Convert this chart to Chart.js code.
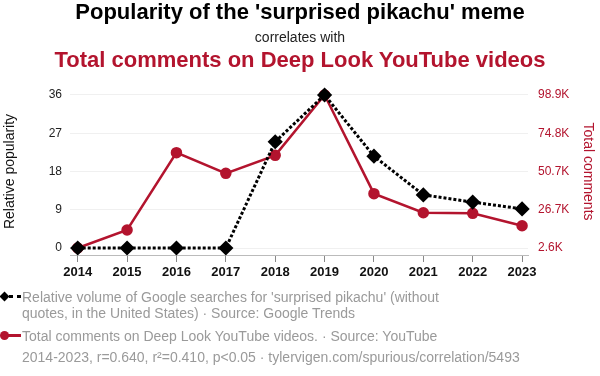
<!DOCTYPE html>
<html>
<head>
<meta charset="utf-8">
<script src="https://cdn.jsdelivr.net/npm/chart.js@4"></script>
<style>
  body { margin: 0; background: #fff; font-family: "Liberation Sans", Arial, sans-serif; }
  #wrap { position: relative; width: 600px; height: 376px; overflow: hidden; }
  #chart { position: absolute; left: 0; top: 0; }
  .t { position: absolute; left: 0; width: 600px; text-align: center; white-space: nowrap; }
  .leg { position: absolute; left: 22px; color: #9a9a9a; font-size: 14px; line-height: 16px; white-space: nowrap; }
  .ico { position: absolute; }
</style>
</head>
<body>
<div id="wrap">
  <canvas id="chart" width="600" height="376"></canvas>
  <div class="t" style="top:1px;font-size:22px;line-height:22px;font-weight:bold;color:#000;">Popularity of the 'surprised pikachu' meme</div>
  <div class="t" style="top:30px;font-size:14px;line-height:14px;color:#222;">correlates with</div>
  <div class="t" style="top:49px;font-size:22px;line-height:22px;font-weight:bold;color:#b3142e;">Total comments on Deep Look YouTube videos</div>

  <!-- legend -->
  <div class="ico" style="left:9px;top:295px;width:12px;height:0;border-top:3px dotted #000;"></div>
  <div class="ico" style="left:1px;top:293px;width:7px;height:7px;background:#000;transform:rotate(45deg);"></div>
  <div class="leg" style="top:289px;">Relative volume of Google searches for 'surprised pikachu' (without<br>quotes, in the United States) · Source: Google Trends</div>

  <div class="ico" style="left:6px;top:334px;width:15px;height:3px;background:#b3142e;"></div>
  <div class="ico" style="left:0px;top:331px;width:9px;height:9px;border-radius:50%;background:#b3142e;"></div>
  <div class="leg" style="top:328px;">Total comments on Deep Look YouTube videos. · Source: YouTube</div>

  <div class="leg" style="top:349px;">2014-2023, r=0.640, r²=0.410, p&lt;0.05 · tylervigen.com/spurious/correlation/5493</div>
</div>
<script>
const years = [2014, 2015, 2016, 2017, 2018, 2019, 2020, 2021, 2022, 2023];
const popularity = [0, 0, 0, 0, 25, 36, 21.6, 12.5, 10.8, 9.2];
const comments = [2600, 13900, 62600, 49600, 60900, 98900, 36800, 24800, 24400, 16600];
const leftTicks = [0, 9, 18, 27, 36];
const rightTicks = [2600, 26700, 50700, 74800, 98900];

const red = "#b3142e";
const fontFamily = '"Liberation Sans", Arial, sans-serif';

new Chart(document.getElementById("chart"), {
  type: "line",
  data: {
    datasets: [
      {
        label: "Relative popularity",
        data: years.map((y, i) => ({ x: y, y: popularity[i] })),
        yAxisID: "y",
        borderColor: "#000",
        backgroundColor: "#000",
        borderWidth: 3,
        borderDash: [3, 2],
        pointStyle: "rectRot",
        pointRadius: 5.5,
        pointHoverRadius: 5.5,
        tension: 0,
        clip: false,
        order: 1,
      },
      {
        label: "Total comments",
        data: years.map((y, i) => ({ x: y, y: comments[i] })),
        yAxisID: "y2",
        borderColor: red,
        backgroundColor: red,
        borderWidth: 2.5,
        pointStyle: "circle",
        pointRadius: 4.5,
        pointHoverRadius: 4.5,
        tension: 0,
        clip: false,
        order: 2,
      },
    ],
  },
  options: {
    responsive: false,
    animation: false,
    layout: { padding: { top: 88, bottom: 0, left: 0, right: 0 } },
    plugins: { legend: { display: false }, tooltip: { enabled: false } },
    scales: {
      x: {
        type: "linear",
        min: 2013.844,
        max: 2023.12,
        afterBuildTicks: (s) => { s.ticks = years.map((v) => ({ value: v })); },
        afterFit: (s) => { s.height = 121; },
        border: { display: true, color: "#bbb", width: 1 },
        grid: { drawOnChartArea: false, drawTicks: true, tickLength: 7, color: "#888" },
        ticks: {
          color: "#111",
          padding: 3,
          maxRotation: 0,
          font: { family: fontFamily, size: 13, weight: "bold" },
          callback: (v) => String(v),
        },
      },
      y: {
        position: "left",
        min: -1.647,
        max: 37.647,
        afterBuildTicks: (s) => { s.ticks = leftTicks.map((v) => ({ value: v })); },
        afterFit: (s) => { s.width = 70; },
        border: { display: false },
        grid: { color: "#f0f0f0", drawTicks: false },
        ticks: { color: "#222", padding: 8, font: { family: fontFamily, size: 12 } },
        title: {
          display: true,
          text: "Relative popularity",
          color: "#111",
          font: { family: fontFamily, size: 14 },
          padding: { top: 2, bottom: 0 },
        },
      },
      y2: {
        position: "right",
        min: -1806,
        max: 103306,
        afterBuildTicks: (s) => { s.ticks = rightTicks.map((v) => ({ value: v })); },
        afterFit: (s) => { s.width = 72; },
        border: { display: false },
        grid: { drawOnChartArea: false, drawTicks: false },
        ticks: {
          color: red,
          padding: 10,
          font: { family: fontFamily, size: 12 },
          callback: (v) => (v / 1000).toFixed(1) + "K",
        },
        title: {
          display: true,
          text: "Total comments",
          color: red,
          font: { family: fontFamily, size: 14 },
          padding: { top: 4, bottom: 0 },
        },
      },
    },
  },
});
</script>
</body>
</html>
